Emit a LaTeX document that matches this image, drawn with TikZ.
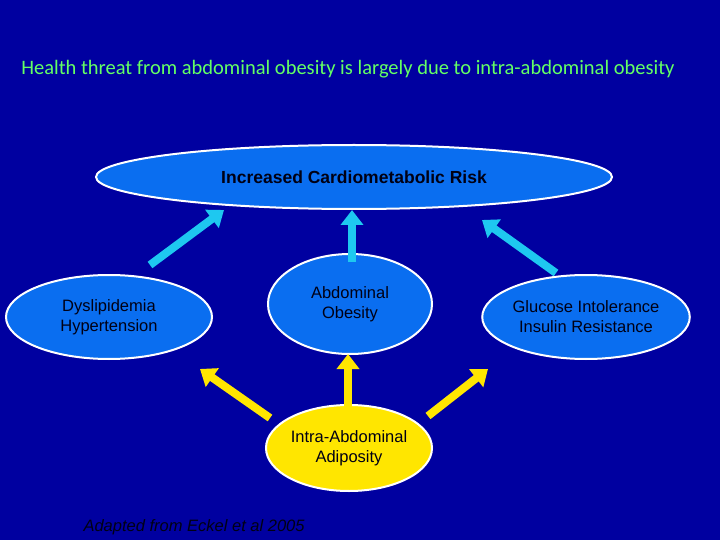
\documentclass[tikz,border=0pt]{standalone}
\usepackage{fontspec}
\setmainfont{Liberation Sans}
\newfontfamily\titlefont{Carlito}
\usetikzlibrary{shapes.geometric,arrows.meta}
\definecolor{bg}{RGB}{0,0,160}
\definecolor{ellfill}{RGB}{10,110,240}
\definecolor{ink}{RGB}{0,0,20}
\definecolor{cyanarr}{RGB}{30,200,240}
\definecolor{yel}{RGB}{255,230,0}
\definecolor{ttl}{RGB}{100,255,100}
\begin{document}
\begin{tikzpicture}[x=1pt,y=-1pt,
  ell/.style={ellipse,draw=white,line width=2pt,inner sep=0pt,align=center,text=ink,font=\fontsize{16.5}{20}\selectfont},
  blk/.style={line width=8pt,-{Triangle[width=22pt,length=15pt]}},
  ]
\fill[bg] (0,0) rectangle (720,540);
\useasboundingbox (0,0) rectangle (720,540);
\node[text=ttl,font=\titlefont\fontsize{20.5}{24}\selectfont] (title) at (348,69) {Health threat from abdominal obesity is largely due to intra-abdominal obesity};
\node[ell,fill=ellfill,minimum width=516,minimum height=64,font=\bfseries\fontsize{17.5}{20}\selectfont] (risk) at (354,177) {Increased Cardiometabolic Risk};
\node[ell,fill=ellfill,minimum width=206,minimum height=84] (dys) at (109,317) {Dyslipidemia\\Hypertension};
\node[ell,fill=ellfill,minimum width=164,minimum height=100] (abd) at (350,304) {Abdominal\\Obesity};
\node[ell,fill=ellfill,minimum width=206,minimum height=84] (glu) at (586,317) {Glucose Intolerance\\Insulin Resistance};
\node[ell,fill=yel,minimum width=166,minimum height=86] (intra) at (349,448) {Intra-Abdominal\\Adiposity};
\node[text=ink,font=\itshape\fontsize{16.5}{20}\selectfont,anchor=west] (src) at (80,527) {Adapted from Eckel et al 2005};
\coordinate (b1s) at (150,265); \coordinate (b1e) at (224,210);
\coordinate (b2s) at (352,262); \coordinate (b2e) at (352,210);
\coordinate (b3s) at (556,273); \coordinate (b3e) at (482,220);
\coordinate (y1s) at (270,418); \coordinate (y1e) at (200,369);
\coordinate (y2s) at (348,411); \coordinate (y2e) at (348,354);
\coordinate (y3s) at (428,416); \coordinate (y3e) at (488,369);
\foreach \a in {1,2,3}{\draw[blk,cyanarr] (b\a s) -- (b\a e);}
\foreach \a in {1,2,3}{\draw[blk,yel] (y\a s) -- (y\a e);}
\end{tikzpicture}
\end{document}
